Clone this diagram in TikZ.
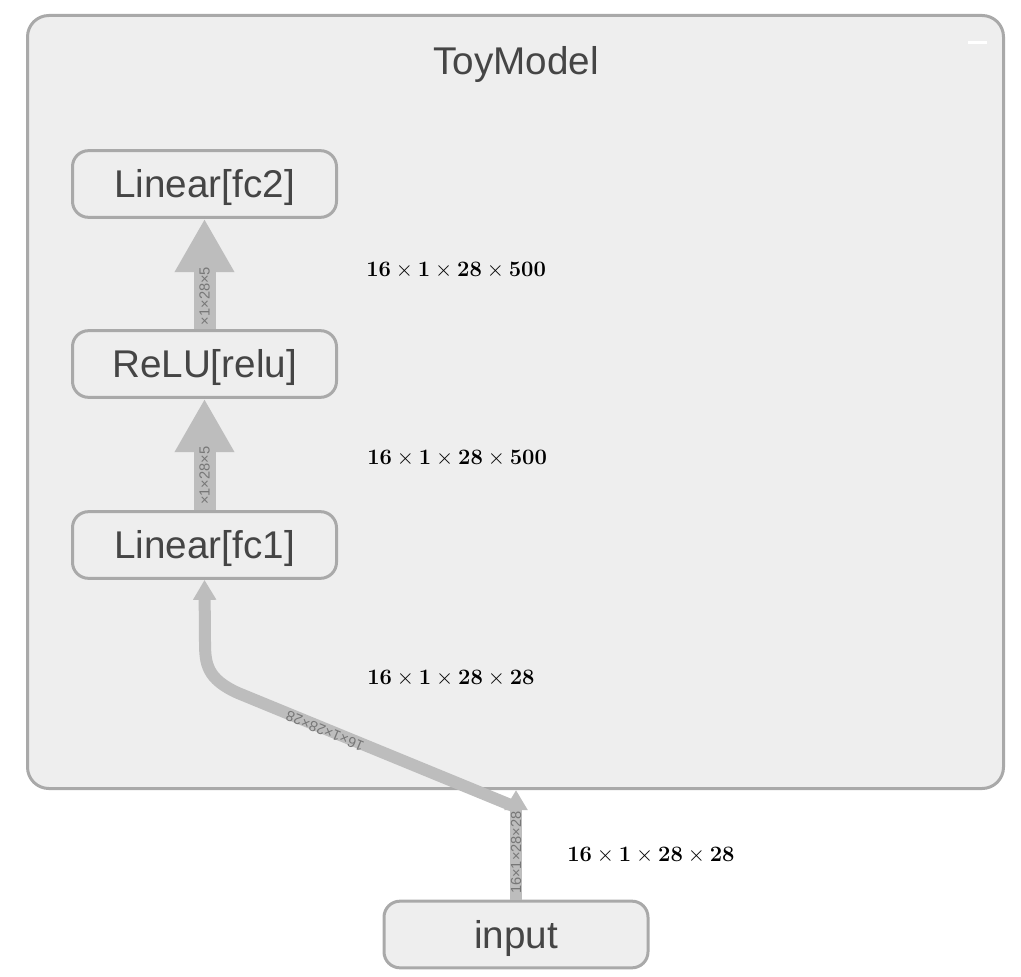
\documentclass[tikz,border=0pt]{standalone}
\usepackage[no-math]{fontspec}
\setmainfont{Liberation Sans}
\usetikzlibrary{arrows.meta}
\definecolor{panelfill}{HTML}{EEEEEE}
\definecolor{panelline}{HTML}{A9A9A9}
\definecolor{edgegray}{HTML}{BDBDBD}
\definecolor{labelgray}{HTML}{777777}
\definecolor{textgray}{HTML}{454545}
\tikzset{
  panel/.style={draw=panelline, line width=2.25pt, fill=panelfill, rounded corners=16pt},
  bigtext/.style={text=textgray, font=\fontsize{29}{32}\selectfont, text height=20.8pt, text depth=0pt},
  opbox/.style={bigtext, draw=panelline, line width=2.25pt, fill=panelfill, rounded corners=12pt,
    minimum width=198pt, minimum height=50pt, inner sep=0pt},
  thickedge/.style={draw=edgegray, line width=16.5pt, -{Triangle[width=42pt,length=40pt]}},
  thinedge/.style={draw=edgegray, line width=9pt, -{Triangle[width=16.5pt,length=15pt]}},
  edgelabel/.style={text=labelgray, inner sep=0pt, font=\fontsize{11}{12}\selectfont},
  shapelabel/.style={anchor=west, inner sep=0pt, scale=0.955, font=\fontsize{17.28}{20}\selectfont},
}
\begin{document}
\begin{tikzpicture}[x=0.75pt,y=0.75pt,yscale=-1,xscale=1]
            \useasboundingbox (0,0) rectangle (1021,977);
            % outer module
            \draw[panel] (27.5,15.5) rectangle (1003.5,788.5);
            \node[bigtext, inner sep=0pt] (title) at (516,61) {ToyModel};
            \draw[white, line width=2.25pt] (968,42.5) -- (987,42.5);
            % layers
            \node[opbox] (fc2) at (204.5,184) {Linear[fc2]};
            \node[opbox] (relu) at (204.5,364) {ReLU[relu]};
            \node[opbox] (fc1) at (204.5,545) {Linear[fc1]};
            \node[opbox] (input) at (516,934.5) {input};
            \coordinate (entry) at (516,790);
            \coordinate (join) at (518,808);
            % edges
            \draw[thickedge] (fc1.north) -- (relu.south) node[edgelabel, pos=0.31, rotate=90] {×1×28×5};
            \draw[thickedge] (relu.north) -- (fc2.south) node[edgelabel, pos=0.3, rotate=90] {×1×28×5};
            \draw[thinedge] (join) -- (238,693) .. controls (207,679) and (205,664) .. (205,642) -- (fc1.south);
            \node[edgelabel, rotate=157.5] (curvelabel) at (325,731) {16×1×28×28};
            \draw[thinedge] (input.north) -- (entry) node[edgelabel, pos=0.43, rotate=90] {16×1×28×28};
            % tensor shapes
            \node[shapelabel] (shape3) at (366,270) {$\mathbf{16}\times\mathbf{1}\times\mathbf{28}\times\mathbf{500}$};
            \node[shapelabel] (shape2) at (367,458) {$\mathbf{16}\times\mathbf{1}\times\mathbf{28}\times\mathbf{500}$};
            \node[shapelabel] (shape1) at (367,678) {$\mathbf{16}\times\mathbf{1}\times\mathbf{28}\times\mathbf{28}$};
            \node[shapelabel] (shape0) at (567,855) {$\mathbf{16}\times\mathbf{1}\times\mathbf{28}\times\mathbf{28}$};
        \end{tikzpicture}
\end{document}
